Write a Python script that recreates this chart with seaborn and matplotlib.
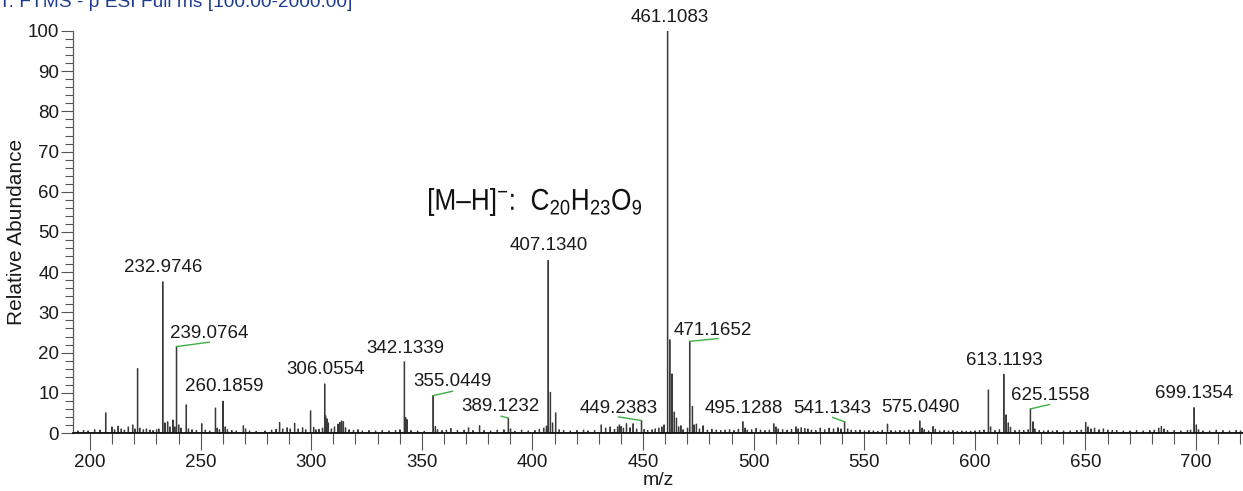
import numpy as np
import pandas as pd
import matplotlib
matplotlib.use("Agg")
import matplotlib.pyplot as plt
import matplotlib.transforms as mtransforms
from matplotlib.textpath import TextPath
from matplotlib.patches import PathPatch
from matplotlib.font_manager import FontProperties
from matplotlib.ticker import MultipleLocator
import seaborn as sns

# ---------------- data (m/z, relative abundance) ----------------
mz = [194.5, 197.0, 199.0, 202.0, 204.5, 207.1, 209.8, 211.0, 212.6, 214.0,
      215.5, 217.3, 219.3, 220.2, 221.5, 222.5, 224.0, 225.5, 227.0, 228.5,
      230.0, 231.0, 232.97, 233.9, 235.1, 236.0, 237.5, 238.2, 239.08, 240.0,
      241.0, 243.5, 244.5, 246.0, 248.0, 250.5, 252.0, 254.0, 256.7, 257.5,
      258.5, 260.19, 261.0, 262.0, 264.0, 266.0, 269.3, 270.3, 272.0, 275.0,
      279.0, 282.0, 284.0, 285.6, 287.0, 289.0, 290.5, 292.4, 294.0, 296.0,
      297.5, 299.6, 301.0, 302.0, 303.5, 305.0, 306.06, 306.5, 307.0, 307.6,
      309.0, 310.5, 312.0, 312.8, 313.6, 314.5, 315.4, 317.0, 319.0, 321.0,
      323.0, 326.0, 329.0, 332.0, 335.0, 338.0, 340.0, 342.13, 342.6, 343.3,
      345.0, 348.0, 351.0, 355.04, 356.0, 357.0, 359.0, 361.0, 363.0, 366.0,
      369.0, 371.0, 373.0, 376.0, 378.0, 381.0, 384.0, 387.0, 389.12, 390.0,
      392.0, 395.0, 398.0, 401.0, 403.0, 405.0, 406.3, 407.13, 408.1, 409.0,
      410.4, 412.0, 414.0, 417.0, 420.0, 423.0, 425.0, 428.0, 431.0, 433.0,
      435.0, 437.0, 438.5, 439.3, 440.0, 441.0, 442.5, 444.0, 445.5, 447.0,
      449.24, 450.5, 452.0, 454.0, 455.5, 457.0, 458.5, 459.5, 461.11, 462.11,
      463.1, 464.1, 465.0, 466.0, 467.0, 468.0, 470.0, 471.17, 472.2, 473.0,
      474.0, 475.5, 477.0, 479.0, 481.0, 483.0, 485.0, 487.0, 489.0, 491.0,
      493.0, 495.13, 496.0, 497.0, 499.0, 501.0, 503.0, 505.0, 507.0, 509.0,
      510.0, 511.0, 513.0, 515.0, 517.0, 519.0, 520.0, 521.5, 523.0, 524.5,
      526.0, 528.0, 530.0, 532.0, 534.0, 536.0, 538.0, 539.5, 541.13, 542.5,
      544.0, 546.0, 548.0, 550.0, 552.0, 554.0, 556.0, 558.0, 560.5, 562.0,
      564.0, 566.0, 568.0, 570.0, 572.0, 575.05, 576.0, 577.0, 579.0, 581.0,
      582.0, 584.0, 586.0, 588.0, 590.0, 592.0, 594.0, 596.0, 598.0, 600.0,
      602.0, 604.0, 606.1, 607.0, 609.0, 611.0, 613.12, 614.1, 615.1, 616.0,
      618.0, 620.0, 622.0, 624.0, 625.16, 626.2, 627.0, 629.0, 631.0, 633.0,
      635.0, 637.0, 640.0, 643.0, 646.0, 648.0, 650.0, 651.0, 652.5, 654.0,
      656.0, 658.0, 660.0, 662.0, 664.0, 667.0, 670.0, 673.0, 676.0, 679.0,
      681.0, 683.0, 684.3, 685.5, 687.0, 690.0, 693.0, 696.0, 697.5, 699.14,
      700.1, 701.0, 703.0, 706.0, 709.0, 712.0, 715.0, 718.0, 720.0]
abundance = [0.5, 0.6, 0.5, 0.8, 0.7, 5.0, 1.5, 0.8, 1.7, 1.0,
             0.7, 1.5, 2.0, 1.0, 16.0, 1.2, 0.8, 1.0, 0.7, 0.6,
             0.8, 1.0, 37.6, 2.5, 2.8, 1.5, 3.2, 1.5, 21.5, 2.0,
             1.2, 7.0, 1.0, 0.8, 0.6, 2.3, 0.7, 0.5, 6.2, 1.2,
             0.8, 7.9, 1.5, 0.8, 0.6, 0.5, 1.8, 1.0, 0.5, 0.4,
             0.5, 0.7, 0.9, 2.6, 1.0, 1.3, 1.0, 2.4, 1.0, 1.3,
             0.8, 5.5, 1.4, 0.8, 0.9, 1.2, 12.2, 4.2, 3.5, 2.5,
             1.0, 1.5, 2.2, 2.6, 3.0, 2.8, 1.3, 0.8, 0.6, 0.8,
             0.5, 0.6, 0.5, 0.6, 0.5, 0.6, 0.8, 17.7, 3.8, 3.3,
             0.6, 0.5, 0.4, 9.3, 1.6, 0.8, 0.6, 0.7, 1.1, 0.6,
             0.7, 1.3, 0.6, 1.8, 0.6, 0.5, 0.7, 0.8, 3.7, 1.0,
             0.4, 0.7, 0.5, 0.6, 0.9, 1.2, 1.7, 42.9, 10.1, 2.5,
             5.0, 0.8, 0.6, 0.5, 0.6, 0.7, 0.5, 0.6, 2.0, 1.2,
             1.5, 0.9, 1.5, 2.0, 1.6, 1.2, 2.3, 1.3, 2.3, 1.0,
             3.1, 0.9, 0.6, 0.8, 1.0, 1.2, 1.5, 2.0, 100.0, 23.2,
             14.7, 5.2, 3.7, 1.5, 1.8, 0.8, 1.2, 22.8, 6.6, 2.0,
             2.2, 1.0, 1.8, 0.7, 0.9, 0.7, 0.6, 0.7, 0.8, 0.6,
             0.9, 2.8, 1.2, 0.7, 0.8, 1.1, 0.7, 0.6, 0.7, 2.3,
             1.5, 1.0, 0.8, 0.7, 0.9, 1.5, 1.0, 1.3, 1.1, 1.0,
             0.7, 0.6, 1.2, 0.8, 1.2, 1.0, 1.3, 1.0, 2.8, 1.0,
             0.7, 0.6, 0.7, 0.5, 0.6, 0.5, 0.4, 0.6, 2.2, 0.6,
             0.5, 0.6, 0.5, 0.7, 0.8, 3.0, 1.2, 0.8, 0.5, 1.6,
             0.9, 0.5, 0.6, 0.5, 0.6, 0.4, 0.5, 0.4, 0.4, 0.5,
             0.6, 0.7, 10.7, 1.5, 0.6, 0.8, 14.6, 4.5, 2.5, 1.4,
             0.6, 0.7, 0.6, 0.8, 6.0, 2.8, 1.0, 0.6, 0.5, 0.6,
             0.5, 0.6, 0.5, 0.5, 0.6, 0.7, 2.6, 1.5, 1.0, 1.2,
             0.8, 1.0, 0.7, 0.6, 0.6, 0.5, 0.5, 0.6, 0.5, 0.6,
             0.7, 1.2, 1.6, 1.0, 0.6, 0.6, 0.5, 0.6, 0.7, 6.3,
             2.0, 0.8, 0.5, 0.5, 0.7, 0.6, 0.5, 0.6, 0.5]

# labelled peaks
label_text = ["232.9746", "239.0764", "260.1859", "306.0554", "342.1339",
              "355.0449", "389.1232", "407.1340", "449.2383", "461.1083",
              "471.1652", "495.1288", "541.1343", "575.0490", "613.1193",
              "625.1558", "699.1354"]
label_peak_mz = [232.97, 239.08, 260.19, 306.06, 342.13, 355.04, 389.12, 407.13,
                 449.24, 461.11, 471.17, 495.13, 541.13, 575.05, 613.12, 625.16,
                 699.14]
label_peak_y = [37.6, 21.5, 7.9, 12.2, 17.7, 9.3, 3.7, 42.9, 3.1, 100.0,
                22.8, 2.8, 2.8, 3.0, 14.6, 6.0, 6.3]

# label anchors (centre x in m/z, bottom y) and connector end points
label_x = [233.0, 254.0, 260.7, 306.7, 342.4, 363.7, 385.4, 407.5, 439.2, 462.0,
           481.5, 495.5, 535.5, 575.6, 613.4, 634.0, 699.0]
label_y = [39.0, 22.6, 9.4, 13.7, 19.0, 10.6, 4.6, 44.5, 4.0, 101.2,
           23.3, 4.0, 4.0, 4.3, 16.0, 7.2, 7.6]
connector_end = [None, (254.0, 22.6), None, None, None, (364.0, 10.4),
                 (385.7, 4.2), None, (438.8, 4.0), None, (484.0, 23.5), None,
                 (535.6, 3.9), None, None, (633.8, 7.1), None]

x_ticks = [200, 250, 300, 350, 400, 450, 500, 550, 600, 650, 700]
y_ticks = [0, 10, 20, 30, 40, 50, 60, 70, 80, 90, 100]

df = pd.DataFrame({"mz": mz, "abundance": abundance})

# ---------------- figure ----------------
sns.set_theme(style="ticks")
plt.rcParams["font.family"] = ["Liberation Sans", "DejaVu Sans"]
plt.rcParams["mathtext.fontset"] = "custom"
plt.rcParams["mathtext.rm"] = "Liberation Sans"
plt.rcParams["mathtext.it"] = "Liberation Sans"

W, H = 1243, 491
fig = plt.figure(figsize=(W / 100, H / 100), dpi=100)
ax = fig.add_axes([73 / W, 1 - 433 / H, (W - 73) / W, (433 - 31) / H])

sns.histplot(data=df, x="mz", weights="abundance", binwidth=0.2,
             binrange=(192.2, 722.2), element="step", fill=False,
             color="#3a3a3a", linewidth=0.8, ax=ax)

ax.set_xlim(192.3, 721.2)
ax.set_ylim(0, 100)
ax.set_xticks(x_ticks)
ax.set_yticks(y_ticks)
ax.xaxis.set_minor_locator(MultipleLocator(10))
ax.yaxis.set_minor_locator(MultipleLocator(2))
ax.tick_params(axis="x", which="major", length=12, width=0.8, color="#555555",
               labelsize=13.5, pad=3, labelcolor="#1a1a1a")
ax.tick_params(axis="x", which="minor", length=8, width=0.8, color="#555555")
ax.tick_params(axis="y", which="major", length=9, width=0.8, color="#555555",
               labelsize=13.5, pad=1, labelcolor="#1a1a1a")
ax.tick_params(axis="y", which="minor", length=6, width=0.8, color="#555555")
for s in ["top", "right"]:
    ax.spines[s].set_visible(False)
ax.spines["left"].set_color("#555555")
ax.spines["left"].set_linewidth(0.9)
ax.spines["bottom"].set_color("#111111")
ax.spines["bottom"].set_linewidth(1.3)
ax.set_xlabel("m/z", fontsize=14, color="#1a1a1a", labelpad=1)
ax.set_ylabel("Relative Abundance", fontsize=15, color="#1a1a1a", labelpad=1)
ax.patch.set_alpha(0)

# peak labels and connectors
for txt, pmz, py, lx, ly, ce in zip(label_text, label_peak_mz, label_peak_y,
                                     label_x, label_y, connector_end):
    ax.text(lx, ly, txt, ha="center", va="bottom", fontsize=13.5,
            color="#1a1a1a", clip_on=False)
    if ce is not None:
        ax.plot([pmz, ce[0]], [py, ce[1]], color="#3cb043", lw=1.0,
                clip_on=False)

# title (partially cut at the top)
fig.text(-0.001, 1 - 7 / H, "T: FTMS - p ESI Full ms [100.00-2000.00]",
         fontsize=13.8, color="#1f3c8f", va="baseline", ha="left")

# condensed formula annotation
formula = r"[M–H]$^{-}$:  C$_{20}$H$_{23}$O$_{9}$"
tp = TextPath((0, 0), formula, size=30,
              prop=FontProperties(family="Liberation Sans"))
ext = tp.get_extents()
target_w = 212.0
sx = target_w / ext.width
left_px, top_px = 429.0, H - 188.0
trans = (mtransforms.Affine2D().translate(-ext.x0, -ext.y1).scale(sx, 1.0)
         .translate(left_px, top_px))
patch = PathPatch(tp, transform=trans, facecolor="#111111", edgecolor="none")
fig.add_artist(patch)

fig.savefig("out.png", dpi=100)
